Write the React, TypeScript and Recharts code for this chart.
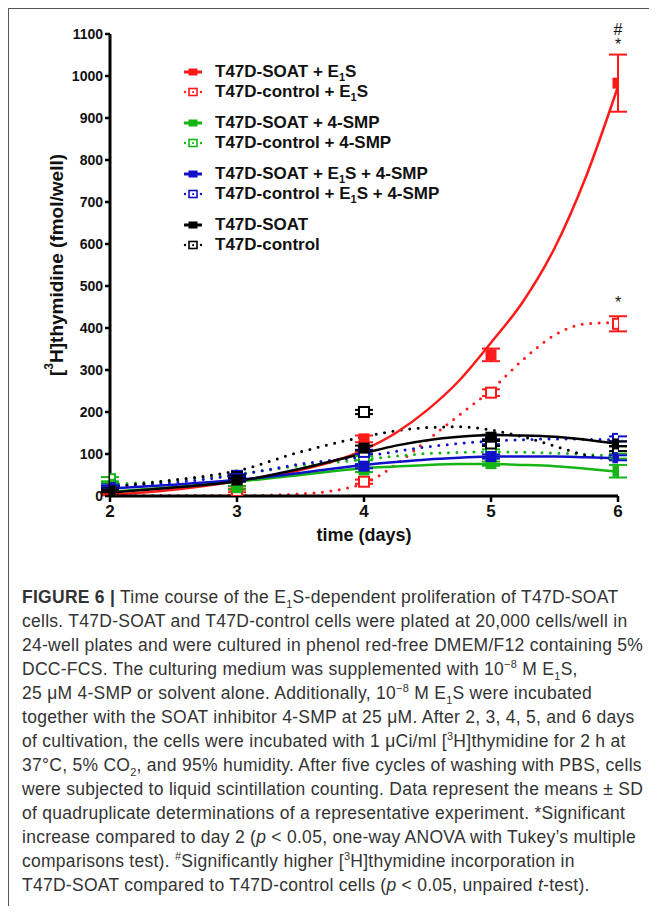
import React from 'react';
import { ComposedChart, Line, Scatter, XAxis, YAxis, ErrorBar, Legend, ReferenceDot } from 'recharts';

// days of measurement
const DAYS = [2, 3, 4, 5, 6];

// means (fmol/well) and SD
const SOAT_E1S = [5, 20, 136, 336, 983];
const SOAT_E1S_SD = [3, 3, 8, 15, 68];
const CTRL_E1S = [4, 12, 34, 246, 410];
const CTRL_E1S_SD = [2, 3, 5, 8, 18];
const SOAT_SMP = [28, 20, 62, 77, 59];
const SOAT_SMP_SD = [4, 4, 5, 5, 15];
const CTRL_SMP = [40, 45, 90, 117, 95];
const CTRL_SMP_SD = [5, 4, 5, 6, 6];
const SOAT_E1S_SMP = [20, 42, 71, 94, 91];
const SOAT_E1S_SMP_SD = [4, 4, 5, 5, 6];
const CTRL_E1S_SMP = [25, 48, 105, 129, 136];
const CTRL_E1S_SMP_SD = [4, 4, 5, 6, 6];
const SOAT = [12, 38, 114, 140, 124];
const SOAT_SD = [3, 4, 6, 6, 6];
const CTRL = [15, 45, 200, 125, 113];
const CTRL_SD = [3, 4, 5, 6, 6];

// fitted curves, sampled off the figure
const FIT_DAYS = [2, 2.5, 3, 3.5, 4, 4.25, 4.5, 4.75, 5, 5.25, 5.5, 5.75, 6];
const FIT_SOAT_E1S = [3, 15, 35, 62, 110, 150, 205, 275, 365, 462, 590, 762, 975];
const FIT_CTRL_E1S = [1, 1, 1, 5, 30, 75, 133, 193, 252, 324, 383, 410, 413];
const FIT_SOAT_SMP = [10, 21, 34, 50, 66, 70, 74, 76, 76, 74, 71, 65, 58];
const FIT_CTRL_SMP = [28, 37, 52, 72, 87, 95, 101, 104, 105, 104, 102, 99, 95];
const FIT_SOAT_E1S_SMP = [18, 27, 38, 55, 74, 81, 87, 91, 94, 94, 94, 92, 90];
const FIT_CTRL_E1S_SMP = [24, 32, 50, 76, 94, 106, 117, 125, 131, 134, 136, 135, 133];
const FIT_SOAT = [8, 20, 35, 65, 102, 120, 133, 141, 145, 144, 141, 134, 124];
const FIT_CTRL = [22, 38, 60, 105, 141, 155, 163, 165, 157, 141, 119, 97, 86];

const X_TICKS = [2, 3, 4, 5, 6];
const Y_TICKS = [0, 100, 200, 300, 400, 500, 600, 700, 800, 900, 1000, 1100];

const SIG_MARKS = [
  { day: 6, value: 1112, text: '#' },
  { day: 6, value: 1076, text: '*' },
  { day: 6, value: 460, text: '*' },
];

const SERIES = [
  { key: 'soatE1S', name: 'T47D-SOAT + E1S', color: '#ff1a1a', open: false, mean: SOAT_E1S, sd: SOAT_E1S_SD, fit: FIT_SOAT_E1S, group: 0 },
  { key: 'ctrlE1S', name: 'T47D-control + E1S', color: '#ff1a1a', open: true, mean: CTRL_E1S, sd: CTRL_E1S_SD, fit: FIT_CTRL_E1S, group: 0 },
  { key: 'soatSmp', name: 'T47D-SOAT + 4-SMP', color: '#16b516', open: false, mean: SOAT_SMP, sd: SOAT_SMP_SD, fit: FIT_SOAT_SMP, group: 1 },
  { key: 'ctrlSmp', name: 'T47D-control + 4-SMP', color: '#16b516', open: true, mean: CTRL_SMP, sd: CTRL_SMP_SD, fit: FIT_CTRL_SMP, group: 1 },
  { key: 'soatE1sSmp', name: 'T47D-SOAT + E1S + 4-SMP', color: '#1010c8', open: false, mean: SOAT_E1S_SMP, sd: SOAT_E1S_SMP_SD, fit: FIT_SOAT_E1S_SMP, group: 2 },
  { key: 'ctrlE1sSmp', name: 'T47D-control + E1S + 4-SMP', color: '#1010c8', open: true, mean: CTRL_E1S_SMP, sd: CTRL_E1S_SMP_SD, fit: FIT_CTRL_E1S_SMP, group: 2 },
  { key: 'soat', name: 'T47D-SOAT', color: '#000000', open: false, mean: SOAT, sd: SOAT_SD, fit: FIT_SOAT, group: 3 },
  { key: 'ctrl', name: 'T47D-control', color: '#000000', open: true, mean: CTRL, sd: CTRL_SD, fit: FIT_CTRL, group: 3 },
];

const fitRows = FIT_DAYS.map((day, i) => {
  const row: Record<string, number> = { day };
  SERIES.forEach((s) => { row[s.key] = s.fit[i]; });
  return row;
});

const pointRows = (s: typeof SERIES[number]) =>
  DAYS.map((day, i) => ({ day, value: s.mean[i], sd: s.sd[i] }));

const FONT = '"Liberation Sans", Arial, sans-serif';

const withSub = (label: string) => {
  const parts = label.split('E1S');
  return parts.map((p, i) => (
    <React.Fragment key={i}>
      {p}
      {i < parts.length - 1 && (
        <>E<span style={{ fontSize: 11, position: 'relative', top: 4 }}>1</span>S</>
      )}
    </React.Fragment>
  ));
};

const squareShape = (color: string, open: boolean) => (props: any) => {
  const { cx, cy } = props;
  if (cx == null || cy == null) return <g />;
  return open ? (
    <rect x={cx - 5} y={cy - 5} width={10} height={10} fill="#fff" stroke={color} strokeWidth={2} />
  ) : (
    <rect x={cx - 5.5} y={cy - 5.5} width={11} height={11} fill={color} />
  );
};

const LegendIcon = ({ color, open }: { color: string; open: boolean }) => (
  <svg width={20} height={10} style={{ display: 'block' }}>
    {open ? (
      <>
        <circle cx={2} cy={5} r={1.2} fill={color} />
        <circle cx={18} cy={5} r={1.2} fill={color} />
        <rect x={6} y={1.5} width={8} height={7} fill="#fff" stroke={color} strokeWidth={1.6} />
        <rect x={9.2} y={4.2} width={1.8} height={1.8} fill={color} />
      </>
    ) : (
      <>
        <line x1={1} y1={5} x2={19} y2={5} stroke={color} strokeWidth={3} />
        <rect x={5.5} y={1.5} width={9} height={7} fill={color} />
      </>
    )}
  </svg>
);

const renderLegend = () => (
  <div style={{ fontFamily: FONT, fontWeight: 'bold', fontSize: 17, color: '#111' }}>
    {SERIES.map((s, i) => (
      <div
        key={s.key}
        style={{
          display: 'flex',
          alignItems: 'center',
          height: 20,
          marginTop: i > 0 && s.group !== SERIES[i - 1].group ? 11 : 0,
          whiteSpace: 'nowrap',
        }}
      >
        <LegendIcon color={s.color} open={s.open} />
        <span style={{ marginLeft: 12 }}>{withSub(s.name)}</span>
      </div>
    ))}
  </div>
);

const YLabel = (props: any) => {
  const { viewBox } = props;
  const x = viewBox.x + 6;
  const y = viewBox.y + viewBox.height / 2;
  return (
    <text
      x={x}
      y={y}
      transform={`rotate(-90, ${x}, ${y})`}
      textAnchor="middle"
      dominantBaseline="central"
      style={{ fontFamily: FONT, fontWeight: 'bold', fontSize: 19, fill: '#111' }}
    >
      [<tspan fontSize={12} dy={-7}>3</tspan>
      <tspan dy={7}>H]thymidine (fmol/well)</tspan>
    </text>
  );
};

const XLabel = (props: any) => {
  const { viewBox } = props;
  return (
    <text
      x={viewBox.x + viewBox.width / 2}
      y={viewBox.y + 39}
      textAnchor="middle"
      dominantBaseline="central"
      style={{ fontFamily: FONT, fontWeight: 'bold', fontSize: 18, fill: '#111' }}
    >
      time (days)
    </text>
  );
};

const sub = (t: string) => <sub style={{ fontSize: 11, lineHeight: 0 }}>{t}</sub>;
const sup = (t: string) => <sup style={{ fontSize: 11, lineHeight: 0 }}>{t}</sup>;

const CAPTION_LINES = [
  <><b>FIGURE 6 |</b> Time course of the E{sub('1')}S-dependent proliferation of T47D-SOAT</>,
  <>cells. T47D-SOAT and T47D-control cells were plated at 20,000 cells/well in</>,
  <>24-well plates and were cultured in phenol red-free DMEM/F12 containing 5%</>,
  <>DCC-FCS. The culturing medium was supplemented with 10{sup('−8')} M E{sub('1')}S,</>,
  <>25 μM 4-SMP or solvent alone. Additionally, 10{sup('−8')} M E{sub('1')}S were incubated</>,
  <>together with the SOAT inhibitor 4-SMP at 25 μM. After 2, 3, 4, 5, and 6 days</>,
  <>of cultivation, the cells were incubated with 1 μCi/ml [{sup('3')}H]thymidine for 2 h at</>,
  <>37°C, 5% CO{sub('2')}, and 95% humidity. After five cycles of washing with PBS, cells</>,
  <>were subjected to liquid scintillation counting. Data represent the means ± SD</>,
  <>of quadruplicate determinations of a representative experiment. *Significant</>,
  <>increase compared to day 2 (<i>p</i> &lt; 0.05, one-way ANOVA with Tukey’s multiple</>,
  <>comparisons test). {sup('#')}Significantly higher [{sup('3')}H]thymidine incorporation in</>,
  <>T47D-SOAT compared to T47D-control cells (<i>p</i> &lt; 0.05, unpaired <i>t</i>-test).</>,
];

const tickStyle = { fontFamily: FONT, fontWeight: 'bold' as const, fill: '#111' };

export default function App() {
  return (
    <div
      style={{
        width: 641,
        height: 898,
        borderLeft: '1px solid #555',
        borderTop: '1px solid #555',
        background: '#fff',
        boxSizing: 'border-box',
        position: 'relative',
      }}
    >
      <ComposedChart
        width={640}
        height={550}
        data={fitRows}
        margin={{ top: 25, right: 31, bottom: 13, left: 41 }}
      >
        <XAxis
          dataKey="day"
          type="number"
          domain={[2, 6]}
          ticks={X_TICKS}
          allowDataOverflow
          height={50}
          tickSize={6}
          tickMargin={3}
          axisLine={{ stroke: '#000', strokeWidth: 3 }}
          tickLine={{ stroke: '#000', strokeWidth: 2.5 }}
          tick={{ ...tickStyle, fontSize: 17 }}
          label={<XLabel />}
        />
        <YAxis
          type="number"
          domain={[0, 1100]}
          ticks={Y_TICKS}
          allowDataOverflow
          width={60}
          tickSize={5}
          tickMargin={2}
          axisLine={{ stroke: '#000', strokeWidth: 3 }}
          tickLine={{ stroke: '#000', strokeWidth: 2.5 }}
          tick={{ ...tickStyle, fontSize: 14 }}
          label={<YLabel />}
        />
        <Legend
          layout="vertical"
          align="center"
          verticalAlign="middle"
          content={renderLegend}
          wrapperStyle={{ left: 174, top: 53, width: 'auto' }}
        />
        {SERIES.filter((s) => s.open).map((s) => (
          <Line
            key={`fit-${s.key}`}
            dataKey={s.key}
            type="monotone"
            stroke={s.color}
            strokeWidth={3}
            strokeDasharray="0 8.5"
            strokeLinecap="round"
            dot={false}
            activeDot={false}
            legendType="none"
            isAnimationActive={false}
          />
        ))}
        {SERIES.filter((s) => !s.open).map((s) => (
          <Line
            key={`fit-${s.key}`}
            dataKey={s.key}
            type="monotone"
            stroke={s.color}
            strokeWidth={2.5}
            dot={false}
            activeDot={false}
            legendType="none"
            isAnimationActive={false}
          />
        ))}
        {[...SERIES.filter((s) => s.open), ...SERIES.filter((s) => !s.open)].map((s) => (
          <Scatter
            key={`pts-${s.key}`}
            name={s.name}
            data={pointRows(s)}
            dataKey="value"
            fill={s.color}
            shape={squareShape(s.color, s.open)}
            isAnimationActive={false}
          >
            <ErrorBar dataKey="sd" direction="y" width={9} stroke={s.color} strokeWidth={2} />
          </Scatter>
        ))}
        {SIG_MARKS.map((m, i) => (
          <ReferenceDot
            key={i}
            x={m.day}
            y={m.value}
            r={0}
            ifOverflow="visible"
            label={{ value: m.text, position: 'center', style: { fontFamily: FONT, fontSize: 16, fill: '#111' } }}
          />
        ))}
      </ComposedChart>
      <div
        style={{
          position: 'absolute',
          left: 13,
          top: 576,
          fontFamily: FONT,
          fontSize: 17.5,
          letterSpacing: 0.27,
          lineHeight: '24px',
          color: '#333',
        }}
      >
        {CAPTION_LINES.map((line, i) => (
          <div key={i} style={{ whiteSpace: 'nowrap' }}>{line}</div>
        ))}
      </div>
    </div>
  );
}
